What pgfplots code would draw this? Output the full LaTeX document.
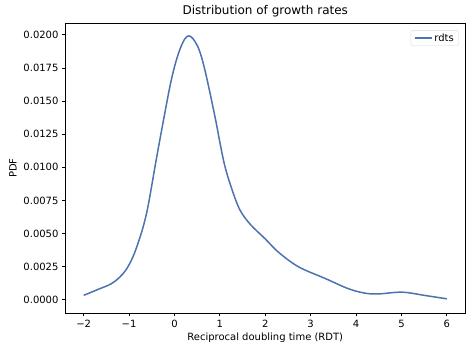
\documentclass[border=0pt]{standalone}
\usepackage{pgfplots}
\pgfplotsset{compat=1.18}
\usepackage{fontspec}
\setmainfont{DejaVu Sans}
\definecolor{mplblue}{RGB}{76,114,176}
\begin{document}
\begin{tikzpicture}[x=1pt,y=1pt]
\begin{axis}[
  at={(0,0)}, anchor=south west,
  scale only axis, width=399.5pt, height=290pt,
  xmin=-2.4, xmax=6.4, ymin=-0.00099, ymax=0.02089,
  xtick={-2,-1,0,1,2,3,4,5,6},
  xticklabels={−2,−1,0,1,2,3,4,5,6},
  ytick={0,0.0025,0.005,0.0075,0.01,0.0125,0.015,0.0175,0.02},
  scaled y ticks=false,
  yticklabel style={/pgf/number format/.cd, fixed, fixed zerofill, precision=4, assume math mode=true},
  tick label style={font=\fontsize{10}{12}\selectfont, text=black},
  tick align=outside, tick pos=lower,
  major tick length=3.5pt,
  every tick/.style={black, line width=0.8pt},
  axis line style={black, line width=0.8pt},
  title={Distribution of growth rates},
  title style={font=\fontsize{12}{14}\selectfont, yshift=-4pt},
  xlabel={Reciprocal doubling time (RDT)},
  ylabel={PDF},
  label style={font=\fontsize{10}{12}\selectfont},
  xlabel style={yshift=2pt},
  ylabel style={yshift=0pt},
  legend style={font=\fontsize{10}{12}\selectfont, draw=black!15, rounded corners=2pt, inner xsep=3pt, inner ysep=1pt, at={(0.985,0.975)}, anchor=north east},
  legend cell align=left,
  legend image post style={line width=1.5pt},
]
\addplot[mplblue, line width=1.5pt, smooth, tension=0.55] coordinates {
(-2.00,0.00034) (-1.69,0.00078) (-1.40,0.0012) (-1.21,0.0017) (-1.06,0.0023)
(-0.92,0.0032) (-0.81,0.0042) (-0.69,0.0055) (-0.58,0.0071)
(-0.40,0.0106) (-0.25,0.0134) (-0.10,0.0161) (0.01,0.0177) (0.12,0.0189)
(0.23,0.0197) (0.32,0.01992) (0.41,0.0197) (0.51,0.01914)
(0.60,0.01827) (0.71,0.01676) (0.90,0.0137)
(1.00,0.0119) (1.11,0.0101) (1.26,0.0084) (1.44,0.0068) (1.67,0.0057)
(2.00,0.0046) (2.29,0.0036) (2.73,0.0025) (3.33,0.0016) (3.84,0.00083)
(4.21,0.0005) (4.50,0.00045) (5.02,0.00058) (5.54,0.00032) (6.00,0.00008)
};
\addlegendentry{rdts}
\end{axis}
\path[use as bounding box] (-65.5pt,-39pt) rectangle (406.5pt,313pt);
\end{tikzpicture}
\end{document}
